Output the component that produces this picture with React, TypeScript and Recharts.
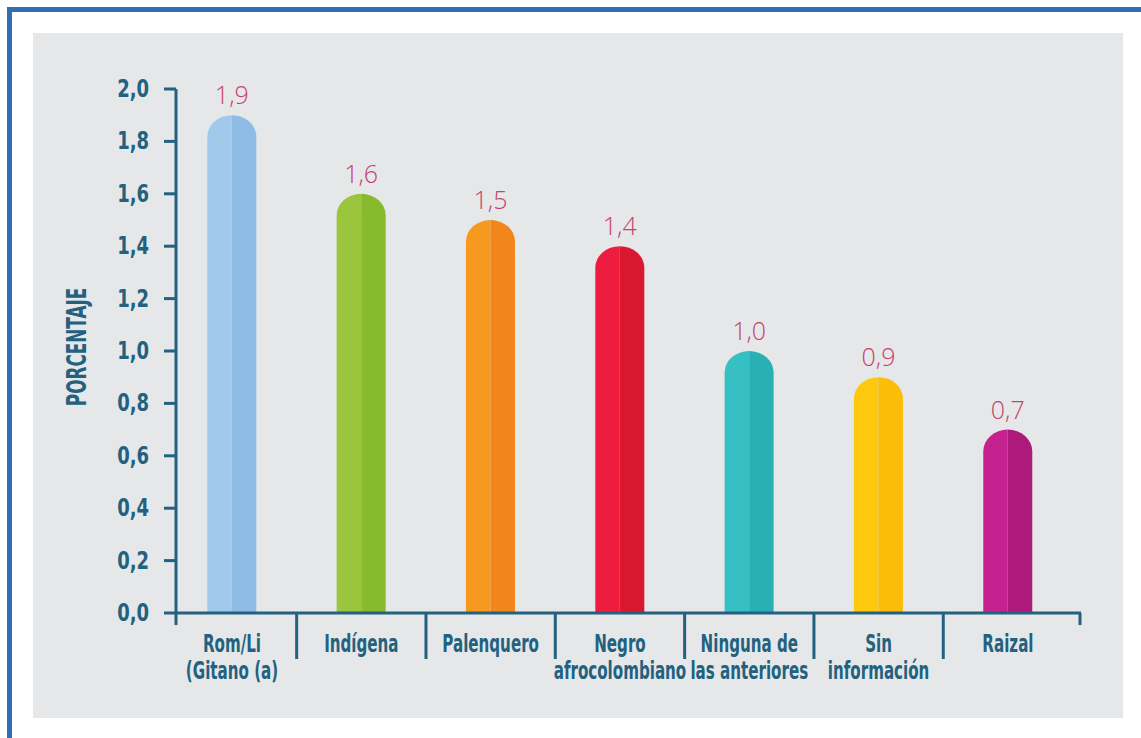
import React from 'react';
import { BarChart, Bar, XAxis, YAxis, LabelList } from 'recharts';

const categories = [
  ['Rom/Li', '(Gitano (a)'],
  ['Indígena'],
  ['Palenquero'],
  ['Negro', 'afrocolombiano'],
  ['Ninguna de', 'las anteriores'],
  ['Sin', 'información'],
  ['Raizal'],
];
const values = [1.9, 1.6, 1.5, 1.4, 1.0, 0.9, 0.7];
const lightColors = ['#a1c9eb', '#9ac53c', '#f7981f', '#ee1d3f', '#37c0c4', '#fec80c', '#c6228f'];
const darkColors = ['#8ebce6', '#87bb2d', '#f3861a', '#d9172f', '#29b0b4', '#fbbd08', '#ad1a7b'];
const yTicks = [0, 0.2, 0.4, 0.6, 0.8, 1.0, 1.2, 1.4, 1.6, 1.8, 2.0];

const data = values.map((v, i) => ({ idx: i, value: v }));

const AXIS = '#22617f';
const LABEL_RED = '#c4436b';
const FONT = '"DejaVu Sans Condensed", "Liberation Sans Narrow", "Roboto", sans-serif';

// plot box inside the chart
const CW = 1090;
const CH = 685;
const M = { top: 56, right: 42, bottom: 0, left: 0 };
const Y_W = 143;
const X_DOMAIN: [number, number] = [-0.433, 6.565];
const PLOT_W = CW - M.left - M.right - Y_W;
const BAND = PLOT_W / (X_DOMAIN[1] - X_DOMAIN[0]);

const fmt = (v: number) => v.toFixed(1).replace('.', ',');

// squeezed bold text to look like a condensed face
function Narrow({ x, y, size, sx, anchor, rotate, children }: any) {
  const t = `translate(${x} ${y})${rotate ? ` rotate(${rotate})` : ''} scale(${sx} 1)`;
  return (
    <g transform={t}>
      <text x={0} y={0} textAnchor={anchor} fill={AXIS} fontFamily={FONT} fontWeight="bold" fontSize={size}>
        {children}
      </text>
    </g>
  );
}

function PillBar(props: any) {
  const { x, y, width, height, index } = props;
  if (!height || height <= 0) return null;
  const rx = width / 2;
  const ry = width * 0.44;
  const cx = x + rx;
  const bottom = y + height;
  const left = `M${x},${bottom} L${x},${y + ry} A${rx},${ry} 0 0 1 ${cx},${y} L${cx},${bottom} Z`;
  const right = `M${cx},${y} A${rx},${ry} 0 0 1 ${x + width},${y + ry} L${x + width},${bottom} L${cx},${bottom} Z`;
  return (
    <g>
      <path d={left} fill={lightColors[index]} />
      <path d={right} fill={darkColors[index]} />
    </g>
  );
}

function CategoryTick(props: any) {
  const { x, y, payload } = props;
  const i = payload.value as number;
  const lines = categories[i] || [];
  const x0 = M.left + Y_W;
  const x1 = CW - M.right;
  return (
    <g>
      {i < categories.length - 1 && (
        <line x1={x + BAND / 2} x2={x + BAND / 2} y1={y} y2={y + 46} stroke={AXIS} strokeWidth={3} />
      )}
      {i === 0 && <line x1={x0} x2={x0} y1={y} y2={y + 12} stroke={AXIS} strokeWidth={3} />}
      {i === categories.length - 1 && (
        <line x1={x1 - 1} x2={x1 - 1} y1={y} y2={y + 12} stroke={AXIS} strokeWidth={3} />
      )}
      {lines.map((t, k) => (
        <Narrow key={k} x={x} y={y + 39 + k * 27} size={24} sx={0.7} anchor="middle">
          {t}
        </Narrow>
      ))}
    </g>
  );
}

function ValueTick(props: any) {
  const { x, y, payload } = props;
  return (
    <Narrow x={x} y={y + 8} size={25} sx={0.8} anchor="end">
      {fmt(Number(payload.value))}
    </Narrow>
  );
}

function YTitle() {
  const cy = M.top + (CH - M.top - 105) / 2 - 4;
  return (
    <Narrow x={53} y={cy} size={26} sx={0.72} anchor="middle" rotate={-90}>
      PORCENTAJE
    </Narrow>
  );
}

export default function App() {
  return (
    <div style={{ position: 'absolute', left: 0, top: 0, width: 1141, height: 738, overflow: 'hidden', background: '#fff' }}>
      <div
        style={{
          position: 'absolute',
          left: 7,
          top: 7,
          width: 1300,
          height: 900,
          border: '5px solid #2f6db5',
          boxSizing: 'border-box',
        }}
      />
      <div style={{ position: 'absolute', left: 33, top: 33, width: CW, height: CH, background: '#e6e7e8' }}>
        <BarChart width={CW} height={CH} data={data} margin={M}>
          <XAxis
            dataKey="idx"
            type="number"
            domain={X_DOMAIN}
            ticks={[0, 1, 2, 3, 4, 5, 6]}
            allowDataOverflow
            height={105}
            tickLine={false}
            tickSize={0}
            tickMargin={0}
            axisLine={{ stroke: AXIS, strokeWidth: 3 }}
            tick={<CategoryTick />}
            interval={0}
          />
          <YAxis
            width={Y_W}
            domain={[0, 2]}
            ticks={yTicks}
            interval={0}
            tickFormatter={fmt}
            tickSize={12}
            tickMargin={15}
            tickLine={{ stroke: AXIS, strokeWidth: 3 }}
            axisLine={{ stroke: AXIS, strokeWidth: 3 }}
            tick={<ValueTick />}
            label={<YTitle />}
          />
          <Bar dataKey="value" barSize={49} shape={<PillBar />} isAnimationActive={false}>
            <LabelList
              dataKey="value"
              position="top"
              offset={11}
              formatter={(v: any) => fmt(Number(v))}
              fill={LABEL_RED}
              fontFamily='"Open Sans", "Lato", sans-serif'
              fontWeight={300}
              fontSize={25}
            />
          </Bar>
        </BarChart>
      </div>
    </div>
  );
}
